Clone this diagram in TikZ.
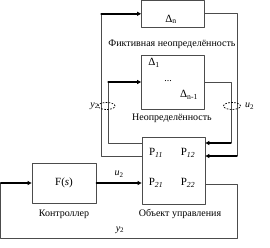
\documentclass[tikz,border=0pt]{standalone}
\usepackage{fontspec}
\setmainfont{Liberation Serif}
\usetikzlibrary{arrows.meta,positioning}
\tikzset{
  every picture/.append style={line cap=round,line join=round},
  ctl box/.style={draw=black!70,line width=0.8pt,minimum width=63pt,inner sep=0pt},
  ctl wire/.style={draw=black!70,line width=0.7pt},
  ctl feed/.style={line width=1.4pt,-{Triangle[length=4pt,width=4pt]}},
  ctl ring/.style={line width=0.7pt,line cap=butt,dash pattern=on 1.6pt off 1.4pt},
  ctl note/.style={font=\fontsize{10}{12}\selectfont,inner sep=0pt},
  ctl sym/.style={font=\fontsize{11}{13}\selectfont,inner sep=0pt}
}
\begin{document}
\begin{tikzpicture}[x=1pt,y=-1pt]
  \useasboundingbox (0,0) rectangle (270,247);
  % blocks
  \node[ctl box,minimum height=27pt] (dn) at (173,13.8) {};
  \node[ctl sym] at (171,19.5) {Δ\textsubscript{n}};
  \node[ctl box,minimum height=54pt] (d1) at (173,82) {};
  \node[ctl sym] at (154,63) {Δ\textsubscript{1}};
  \node[ctl note] at (168,81) {...};
  \node[ctl sym] at (189,95) {Δ\textsubscript{n-1}};
  \node[ctl box,minimum height=67pt] (plant) at (173.5,170.5) {};
  \node[ctl sym] at (156,153) {P\textsubscript{\textit{11}}};
  \node[ctl sym] at (188,153) {P\textsubscript{\textit{12}}};
  \node[ctl sym] at (156,183) {P\textsubscript{\textit{21}}};
  \node[ctl sym] at (188,183) {P\textsubscript{\textit{22}}};
  \node[ctl box,minimum width=64pt,minimum height=40pt] (ctrl) at (64,183) {};
  \node[ctl sym] at (64,183) {F(\textit{s})};
  % captions
  \node[ctl note] (fict) at (172,44) {Фиктивная неопределённость};
  \node[ctl note] (unc) at (172,118) {Неопределённость};
  \node[ctl note] (ctrlname) at (64,214) {Контроллер};
  \node[ctl note] (plantname) at (180,214) {Объект управления};
  % ports of the plant
  \coordinate (pw1) at ([yshift=27.5pt]plant.west);
  \coordinate (pw2) at ([yshift=14.5pt]plant.west);
  \coordinate (pe1) at ([yshift=27.5pt]plant.east);
  \coordinate (pe2) at ([yshift=14.5pt]plant.east);
  \coordinate (pe3) at ([yshift=-13.5pt]plant.east);
  \coordinate (lo) at ([xshift=-40pt]dn.west);
  \coordinate (li) at ([xshift=-33pt]d1.west);
  \coordinate (ro) at ([xshift=32pt]dn.east);
  \coordinate (ri) at ([xshift=26pt]d1.east);
  \coordinate (rb) at ([xshift=32pt,yshift=-54pt]pe3);
  \coordinate (lb) at (0.8,238);
  % loops through the uncertainty
  \draw[ctl wire] (pw2) -| (lo);
  \draw[ctl feed] (lo) -- (dn.west);
  \draw[ctl wire] (pw1) -| (li);
  \draw[ctl feed] (li) -- (d1.west);
  \draw[ctl wire] (dn.east) -| (ro |- pe2);
  \draw[ctl feed] (ro |- pe2) -- (pe2);
  \draw[ctl wire] (d1.east) -| (ri |- pe1);
  \draw[ctl feed] (ri |- pe1) -- (pe1);
  % feedback loop
  \draw[ctl feed] (ctrl.east) -- (ctrl.east -| plant.west)
    node[midway,above=5pt,ctl note] (u2) {\textit{u}\textsubscript{2}};
  \draw[ctl wire] (pe3) -| (rb) -- (lb) |- (ctrl.west -| lb);
  \draw[ctl feed] (ctrl.west -| lb) -- (ctrl.west);
  \node[ctl note] (y2) at (120,230) {\textit{y}\textsubscript{2}};
  % cut marks
  \draw[ctl ring] (106.5,106) ellipse [x radius=8.5pt,y radius=3.5pt];
  \draw[ctl ring] (232,106) ellipse [x radius=8.5pt,y radius=3.5pt];
  \node[ctl note,anchor=east] (ly) at (99,106) {\textit{y}\textsubscript{2}};
  \node[ctl note,anchor=west] (ru) at (245,106) {\textit{u}\textsubscript{2}};
\end{tikzpicture}
\end{document}
